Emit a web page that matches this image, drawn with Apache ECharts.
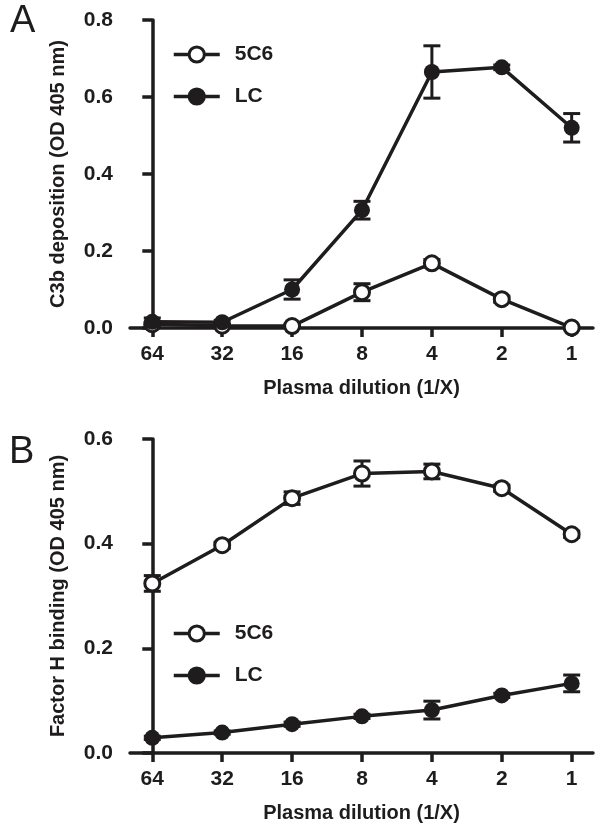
<!DOCTYPE html>
<html>
<head>
<meta charset="utf-8">
<script src="https://cdn.jsdelivr.net/npm/echarts@6/dist/echarts.min.js"></script>
<style>html,body{margin:0;padding:0;background:#fff}#c{width:605px;height:826px}</style>
</head>
<body>
<div id="c"></div>
<script>
// ---- data ----
var dilutions = ['64', '32', '16', '8', '4', '2', '1'];
var seriesNames = ['5C6', 'LC'];
// Panel A: C3b deposition (OD 405 nm)
var a5C6 = [0.010, 0.006, 0.005, 0.093, 0.168, 0.075, 0.001];
var a5C6Err = [0.004, 0.003, 0.003, 0.022, 0.010, 0.008, 0.003];
var aLC = [0.016, 0.015, 0.100, 0.306, 0.665, 0.677, 0.520];
var aLCErr = [0.010, 0.005, 0.025, 0.023, 0.068, 0.006, 0.037];
// Panel B: Factor H binding (OD 405 nm)
var b5C6 = [0.324, 0.397, 0.487, 0.534, 0.538, 0.506, 0.418];
var b5C6Err = [0.015, 0.006, 0.012, 0.024, 0.014, 0.006, 0.006];
var bLC = [0.029, 0.039, 0.055, 0.070, 0.082, 0.110, 0.133];
var bLCErr = [0.003, 0.003, 0.004, 0.004, 0.017, 0.004, 0.016];

var INK = '#1e1c1d';
var FONT = "'Liberation Sans', Arial, Helvetica, sans-serif";
var idx = dilutions.map(function (d, i) { return i; });

function pts(vals) { return vals.map(function (v, i) { return [i, v]; }); }
function errPts(vals, errs) { return vals.map(function (v, i) { return [i, v - errs[i], v + errs[i]]; }); }

function errorRender(params, api) {
  var x = api.value(0);
  var lo = api.coord([x, api.value(1)]);
  var hi = api.coord([x, api.value(2)]);
  var hw = 8.5;
  var st = { stroke: INK, lineWidth: 3 };
  return {
    type: 'group',
    children: [
      { type: 'line', shape: { x1: lo[0], y1: lo[1], x2: hi[0], y2: hi[1] }, style: st },
      { type: 'line', shape: { x1: lo[0] - hw, y1: lo[1], x2: lo[0] + hw, y2: lo[1] }, style: st },
      { type: 'line', shape: { x1: hi[0] - hw, y1: hi[1], x2: hi[0] + hw, y2: hi[1] }, style: st }
    ]
  };
}

function xAxis(gi) {
  return {
    type: 'value', gridIndex: gi, min: -0.319, max: 6.305,
    name: 'Plasma dilution (1/X)', nameLocation: 'middle', nameGap: 50,
    nameTextStyle: { fontFamily: FONT, fontWeight: 'bold', fontSize: 20, color: INK },
    axisLine: { lineStyle: { color: INK, width: 3.5 } },
    axisTick: { customValues: idx, length: 9, lineStyle: { color: INK, width: 3.5 } },
    axisLabel: {
      customValues: idx, margin: 16, fontFamily: FONT, fontWeight: 'bold', fontSize: 21, color: INK,
      formatter: function (v) { return dilutions[Math.round(v)]; }
    },
    splitLine: { show: false }
  };
}
function yAxis(gi, name, max) {
  return {
    type: 'value', gridIndex: gi, min: 0, max: max, interval: 0.2,
    name: name, nameLocation: 'middle', nameGap: 62,
    nameTextStyle: { fontFamily: FONT, fontWeight: 'bold', fontSize: 20, color: INK },
    axisLine: { show: true, lineStyle: { color: INK, width: 3.5 } },
    axisTick: { show: true, length: 10, lineStyle: { color: INK, width: 3.5 } },
    axisLabel: {
      margin: 17, fontFamily: FONT, fontWeight: 'bold', fontSize: 21, color: INK,
      formatter: function (v) { return v.toFixed(1); }
    },
    splitLine: { show: false }
  };
}

function lineSeries(name, gi, vals, open) {
  return {
    name: name, type: 'line', xAxisIndex: gi, yAxisIndex: gi, data: pts(vals),
    symbol: 'circle', symbolSize: open ? 15 : 16, z: open ? 3 : 4,
    lineStyle: { color: INK, width: 3.5 },
    itemStyle: open ? { color: '#fff', borderColor: INK, borderWidth: 3 } : { color: INK, borderColor: INK, borderWidth: 0 },
    emphasis: { disabled: true }, animation: false
  };
}
function errSeries(gi, vals, errs) {
  return {
    type: 'custom', xAxisIndex: gi, yAxisIndex: gi, renderItem: errorRender,
    data: errPts(vals, errs), encode: { x: 0, y: [1, 2] }, z: 2, silent: true, animation: false
  };
}

function legend(top) {
  return {
    left: 167, top: top, orient: 'vertical', itemWidth: 46, itemHeight: 19, itemGap: 21,
    data: seriesNames, selectedMode: false,
    lineStyle: { width: 3.5, color: INK },
    itemStyle: { borderWidth: 3, borderColor: INK },
    textStyle: { fontFamily: FONT, fontWeight: 'bold', fontSize: 21, color: INK, padding: [0, 0, 0, 10] }
  };
}

var chart = echarts.init(document.getElementById('c'), null, { renderer: 'canvas' });
chart.setOption({
  backgroundColor: '#fff',
  animation: false,
  title: [
    { text: 'A', left: 10, top: 3, padding: 0, textStyle: { fontFamily: FONT, fontWeight: 'normal', fontSize: 38, color: INK } },
    { text: 'B', left: 9, top: 434, padding: 0, textStyle: { fontFamily: FONT, fontWeight: 'normal', fontSize: 38, color: INK } }
  ],
  legend: [legend(39), legend(618)],
  grid: [
    { left: 130, top: 20, width: 463, height: 308 },
    { left: 130, top: 439, width: 463, height: 314 }
  ],
  xAxis: [xAxis(0), xAxis(1)],
  yAxis: [
    yAxis(0, 'C3b deposition (OD 405 nm)', 0.8),
    yAxis(1, 'Factor H binding (OD 405 nm)', 0.6)
  ],
  series: [
    errSeries(0, a5C6, a5C6Err),
    errSeries(0, aLC, aLCErr),
    lineSeries('5C6', 0, a5C6, true),
    lineSeries('LC', 0, aLC, false),
    errSeries(1, b5C6, b5C6Err),
    errSeries(1, bLC, bLCErr),
    lineSeries('5C6', 1, b5C6, true),
    lineSeries('LC', 1, bLC, false)
  ]
});
</script>
</body>
</html>
